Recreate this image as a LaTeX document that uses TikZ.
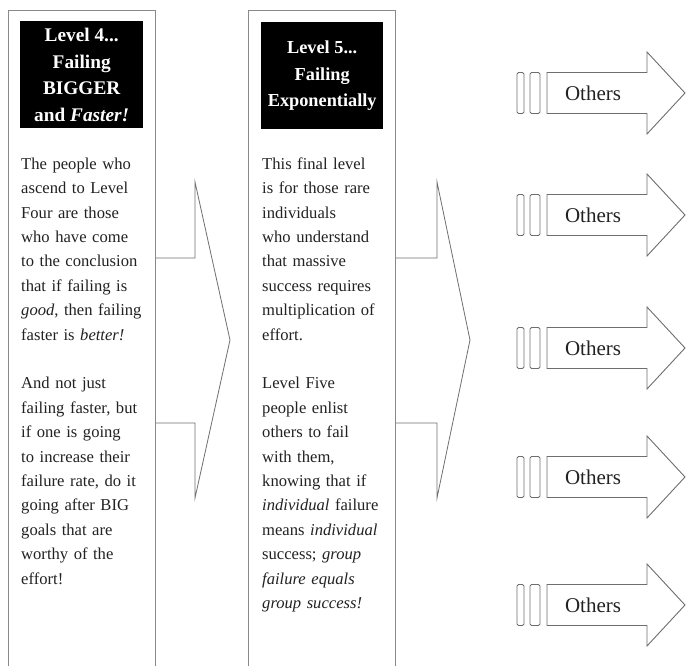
\documentclass[tikz,border=0pt]{standalone}
\usepackage{fontspec}
\setmainfont{Liberation Serif}
\definecolor{boxgray}{HTML}{8A8A8A}
\definecolor{linegray}{HTML}{6E6E6E}
\definecolor{textgray}{HTML}{222222}
\begin{document}
\begin{tikzpicture}[x=1pt,y=-1pt,
  colbox/.style={draw=boxgray, line width=1.2pt, fill=white, inner sep=0pt, anchor=north west, minimum width=147pt, minimum height=720pt},
  headbox/.style={fill=black, text=white, align=center, inner sep=0pt, anchor=north west, minimum height=107pt},
  bodytext/.style={anchor=north west, inner sep=0pt, align=left, text width=170pt, font=\fontsize{16.6}{24.4}\selectfont, text=textgray},
  bigarrow/.style={draw=linegray, line width=0.8pt, line join=miter},
  smallarrow/.style={draw=linegray, line width=0.9pt, fill=white, line join=miter},
  barbox/.style={draw=linegray, line width=0.8pt, rounded corners=1.5pt},
  otherstext/.style={font=\fontsize{21}{24}\selectfont, inner sep=0pt, text=textgray}]
\useasboundingbox (0,0) rectangle (686,665);

% big arrows behind the columns
\draw[bigarrow] (155,258) -- (195,258) -- (195,182) -- (230,340) -- (195,498) -- (195,423) -- (155,423);
\draw[bigarrow] (396,258) -- (437,258) -- (437,182) -- (470,340) -- (437,498) -- (437,423) -- (396,423);

% column 1
\node[colbox] (c1) at (8,10) {};
\node[headbox, minimum width=123pt, font=\bfseries\fontsize{19.3}{26.5}\selectfont] (h1) at (20,21)
  {Level 4...\\Failing\\BIGGER\\and \emph{Faster!}};
\node[bodytext] (b1) at (21,152)
  {\strut The people who\\ascend to Level\\Four are those\\who have come\\to the conclusion\\that if failing is\\\emph{good}, then failing\\faster is \emph{better!}\\[24.4pt]And not just\\failing faster, but\\if one is going\\to increase their\\failure rate, do it\\going after BIG\\goals that are\\worthy of the\\effort!};

% column 2
\node[colbox] (c2) at (248,10) {};
\node[headbox, minimum width=122pt, font=\bfseries\fontsize{18.3}{26.5}\selectfont] (h2) at (261,22)
  {Level 5...\\Failing\\Exponentially};
\node[bodytext] (b2) at (262,152)
  {\strut This final level\\is for those rare\\individuals\\who understand\\that massive\\success requires\\multiplication of\\effort.\\[24.4pt]Level Five\\people enlist\\others to fail\\with them,\\knowing that if\\\emph{individual} failure\\means \emph{individual}\\success; \emph{group}\\\emph{failure equals}\\\emph{group success!}};

% Others arrows
\foreach \y [count=\i] in {93,215,348,477,605} {
  \draw[smallarrow] (547,\y-20.5) -- (647,\y-20.5) -- (647,\y-41) -- (685,\y) -- (647,\y+41) -- (647,\y+20.5) -- (547,\y+20.5) -- cycle;
  \node[otherstext] (o\i) at (593,\y) {Others};
  \draw[barbox] (517,\y-20.5) rectangle (524,\y+20.5);
  \draw[barbox] (530,\y-20.5) rectangle (540,\y+20.5);
}
\end{tikzpicture}
\end{document}
